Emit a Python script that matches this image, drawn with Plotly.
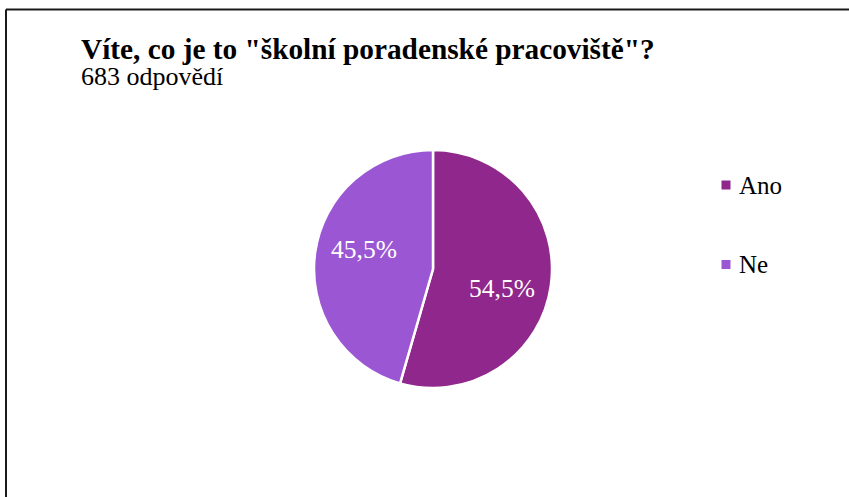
import math
import plotly.graph_objects as go

# Survey answers
labels = ["Ano", "Ne"]
counts = [372, 311]
colors = ["#8f278c", "#9b57d3"]
title_text = "Víte, co je to \"školní poradenské pracoviště\"?"
subtitle_text = f"{sum(counts)} odpovědí"

W, H = 849, 497
FONT = "'Times New Roman', 'Liberation Serif', Tinos, serif"


def px_x(x):
    return x / W


def px_y(y):
    return 1 - y / H


# Pie placement in pixels (centre and radius)
cx, cy, r = 433, 269, 119

fig = go.Figure(
    go.Pie(
        labels=labels,
        values=counts,
        sort=False,
        direction="clockwise",
        rotation=0,
        marker=dict(colors=colors, line=dict(color="white", width=2.5)),
        textinfo="none",
        showlegend=False,
        hoverinfo="label+value+percent",
        domain=dict(
            x=[px_x(cx - r), px_x(cx + r)],
            y=[px_y(cy + r), px_y(cy - r)],
        ),
    )
)

annotations = [
    dict(text=f"<b>{title_text}</b>", x=px_x(79), y=px_y(48.5),
         xanchor="left", yanchor="middle", showarrow=False,
         font=dict(family=FONT, size=29.3, color="black")),
    dict(text=subtitle_text, x=px_x(79), y=px_y(76),
         xanchor="left", yanchor="middle", showarrow=False,
         font=dict(family=FONT, size=26, color="black")),
]

# Percentage labels inside the slices, placed along each slice's mid angle
total = sum(counts)
start = 0.0
for v in counts:
    frac = v / total
    mid = (start + frac / 2) * 360 + 8
    start += frac
    rad = math.radians(mid)
    lx = cx + math.sin(rad) * 0.605 * r
    ly = cy - math.cos(rad) * 0.605 * r
    pct = f"{frac * 100:.1f}".replace(".", ",") + "%"
    annotations.append(dict(text=pct, x=px_x(lx), y=px_y(ly),
                            xanchor="center", yanchor="middle", showarrow=False,
                            font=dict(family=FONT, size=25.5, color="white")))

shapes = [
    # frame around the chart area
    dict(type="line", xref="paper", yref="paper", x0=px_x(6), x1=1.0,
         y0=px_y(9.5), y1=px_y(9.5), line=dict(color="#1a1a1a", width=2)),
    dict(type="line", xref="paper", yref="paper", x0=px_x(6), x1=px_x(6),
         y0=px_y(9.5), y1=0.0, line=dict(color="#1a1a1a", width=2)),
]

# Legend: coloured square plus label for each answer
legend_top, legend_step = 185, 79.5
for i, (lab, col) in enumerate(zip(labels, colors)):
    yc = legend_top + i * legend_step
    shapes.append(dict(type="rect", xref="paper", yref="paper",
                       x0=px_x(721.5), x1=px_x(730.5),
                       y0=px_y(yc + 4.5), y1=px_y(yc - 4.5),
                       fillcolor=col, line=dict(width=0)))
    annotations.append(dict(text=lab, x=px_x(737), y=px_y(yc),
                            xanchor="left", yanchor="middle", showarrow=False,
                            font=dict(family=FONT, size=25, color="black")))

fig.update_layout(
    width=W,
    height=H,
    margin=dict(l=0, r=0, t=0, b=0),
    paper_bgcolor="white",
    plot_bgcolor="white",
    font=dict(family=FONT),
    annotations=annotations,
    shapes=shapes,
)

fig.write_html("out.html")
